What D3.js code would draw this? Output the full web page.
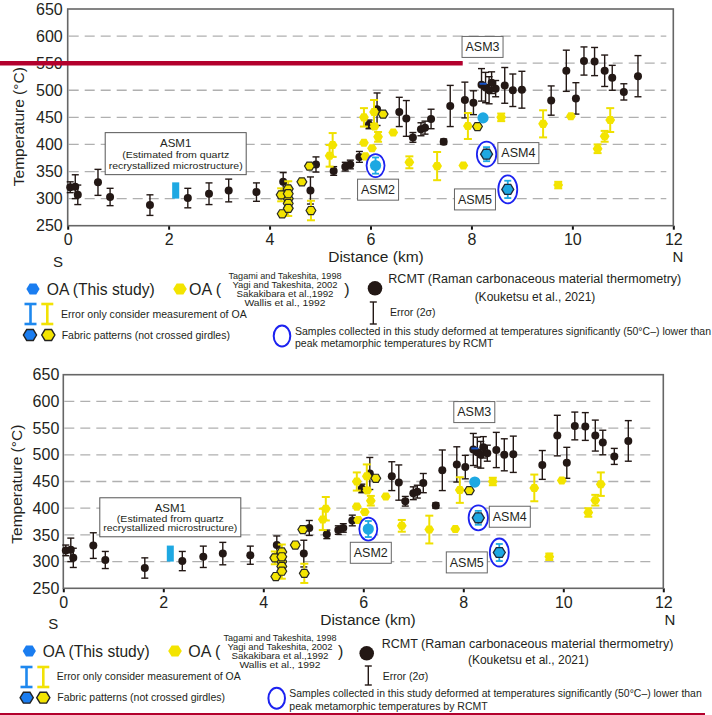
<!DOCTYPE html>
<html><head><meta charset="utf-8">
<script src="https://cdn.jsdelivr.net/npm/d3@7"></script>
<style>html,body{margin:0;padding:0;background:#fff;} svg{display:block;font-family:"Liberation Sans",Arial,sans-serif;}</style>
</head><body>
<svg id="c" width="712" height="715"></svg>
<script>
// ---------------- DATA ----------------
const xTicks = [0, 2, 4, 6, 8, 10, 12];
const yTicks = [250, 300, 350, 400, 450, 500, 550, 600, 650];
const gridTemps = [300, 350, 400, 450, 500, 550, 600];

// RCMT (Kouketsu et al., 2021): [distance km, temperature °C, error 2σ]
const rcmt = [
  [0.05,321,10],[0.15,322,22],[0.2,307,18],[0.6,330,24],[0.84,303,16],[1.63,288,19],
  [2.38,301,18],[2.8,309,20],[3.19,315,21],[3.74,312,17],[4.27,331,17],[4.81,315,25],
  [4.92,363,14],[5.27,351,8],[5.5,359,8],[5.6,363,8],[5.78,377,10],[5.97,437,8],[6.13,465,30],
  [6.57,460,27],[6.71,448,33],[6.84,413,9],[7.0,428,12],[7.08,431,12],[7.2,447,18],
  [7.45,405,5],[7.58,471,38],[7.87,482,33],[8.04,477,22],
  [8.2,510,30],[8.28,505,28],[8.35,500,25],[8.4,514,20],[8.48,503,15],[8.66,509,33],[8.82,500,30],[9.0,501,34],
  [9.58,481,27],[9.88,536,38],[10.07,485,29],[10.23,554,26],[10.44,553,26],[10.64,536,29],
  [10.79,523,23],[11.02,497,15],[11.3,526,38]
];

// OA of previous studies: [km, °C, error, fabric pattern (not crossed girdles) 1/0]
const oaPrevious = [
  [4.37,300,32,1],[4.23,307,12,1],[4.25,272,0,1],[4.37,318,0,1],[4.37,309,0,1],[4.37,291,0,1],[4.37,282,0,1],
  [4.64,331,0,1],[4.79,360,0,1],[4.82,278,18,1],[5.19,379,20,0],[5.25,399,22,0],
  [5.87,450,17,0],[6.07,460,22,0],[6.25,456,0,1],[5.87,403,0,0],[6.15,414,9,0],[6.08,433,0,0],
  [6.03,393,0,0],[5.9,378,0,0],[6.45,422,0,0],[6.77,367,11,0],[7.32,360,26,0],[7.84,361,0,0],
  [7.93,434,24,0],[8.12,433,0,1],[8.59,450,7,0],[9.42,438,25,0],[9.97,452,0,0],
  [10.5,392,8,0],[10.64,415,10,0],[10.75,445,22,0]
];
const oaPreviousOnlyTop = [[9.72,325,6,0]];
const oaPreviousOnlyBottom = [[9.72,309,6,0]];

// OA (this study): name, km, °C, low, high, fabric, deformed well below RCMT peak
const oaStudy = [
  {name:"ASM2", km:6.1,  t:361, lo:346, hi:376, fabric:0, low:1},
  {name:"ASM3", km:8.23, t:449, lo:386, hi:512, fabric:0, low:0},
  {name:"ASM4", km:8.3,  t:382, lo:369, hi:395, fabric:1, low:1},
  {name:"ASM5", km:8.72, t:317, lo:301, hi:333, fabric:1, low:1}
];
// ASM1 estimated from quartz recrystallized microstructure: km range, °C range
const asm1 = {km0:2.07, km1:2.21, t0:300, t1:330};

const refsLines = ["Tagami and Takeshita, 1998","Yagi and Takeshita, 2002","Sakakibara et al.,1992","Wallis et al., 1992"];

// ---------------- LAYOUT ----------------
const labelPos = { // annotation box centres in data coords
  ASM1:[2.14,383], ASM2:[6.15,316.5], ASM3:[8.22,580], ASM4:[8.93,384], ASM5:[8.07,298.5]
};
const ellipseSize = {ASM2:[9,11.5], ASM4:[9.7,12.5], ASM5:[9.5,14]};
const refsW = [113, 105, 97, 81];

const panels = [
  {left:67.7, right:673.3, top:9, bottom:225.7, yPad:5, xPad:4, ytx:19, yty:126.7,
   extra: oaPreviousOnlyTop, asm1H:42,
   L:{sX:58,sY:262,nX:678,nY:257,distX:376,distY:257,row1Y:289,blueHexX:33,oaThisX:46.7,oaThisW:108,
      yelHexX:180,oaOpenX:189,refsX:285,refsY:[275.7,285,294.5,303.5],closeX:347,blackX:375,blackY:288.3,
      rcmtX:388.3,rcmtY:278.3,rcmtW:293,koukX:535,koukY:296.7,errIx:373.3,errIy1:302,errIy2:324,
      err2X:390,err2Y:312.3,barBlueX:30.5,barYelX:47.3,barY1:304,barY2:324,errOnlyX:61,errOnlyY:314.3,
      errOnlyW:185.7,fabY:335,fabBX:30,fabYX:48.3,fabTX:61.7,fabW:168.3,ellX:282,ellY:336,
      sampX:295,sampY1:331,sampY2:343.5,sampW:416}},
  {left:63.3, right:663.3, top:374.7, bottom:588.3, yPad:4, xPad:4, ytx:17, yty:484.2,
   extra: oaPreviousOnlyBottom, asm1H:39,
   L:{sX:53.3,sY:623.3,nX:670,nY:620,distX:368,distY:620,row1Y:651,blueHexX:29.3,oaThisX:42.7,oaThisW:107,
      yelHexX:175,oaOpenX:188.3,refsX:280,refsY:[637.7,647,656.3,665.3],closeX:340.7,blackX:366.7,blackY:653.3,
      rcmtX:381.7,rcmtY:643.3,rcmtW:291.7,koukX:528.3,koukY:660,errIx:368.3,errIy1:666,errIy2:685,
      err2X:382.7,err2Y:676,barBlueX:26.5,barYelX:43.3,barY1:667,barY2:687,errOnlyX:56.7,errOnlyY:676,
      errOnlyW:184,fabY:697.7,fabBX:26.7,fabYX:43.3,fabTX:57.3,fabW:167.7,ellX:276.7,ellY:698.3,
      sampX:289.3,sampY1:693.3,sampY2:706,sampW:412.4}}
];

const C = {black:"#231815", yellow:"#f3e400", yellowBar:"#efe000", cyan:"#1ea8e2",
  legBlue:"#1a7df0", ellipse:"#1c22f0", text:"#231f20", grid:"#b0b0b0", frame:"#666", red:"#b3002d"};

// ---------------- DRAW ----------------
const svg = d3.select("#c");

svg.append("defs").append("linearGradient").attr("id","asm3grad")
  .attr("x1",0).attr("y1",0).attr("x2",0).attr("y2",1)
  .selectAll("stop").data([["0%","#1552c8"],["100%","#3aa6f2"]]).join("stop")
  .attr("offset",d=>d[0]).attr("stop-color",d=>d[1]);

function hexPath(cx, cy, r) {
  const p = d3.path();
  for (let k = 0; k < 6; k++) {
    const a = k * Math.PI / 3;
    const px = cx + r * Math.cos(a), py = cy + r * Math.sin(a) * 0.95;
    if (k === 0) p.moveTo(px, py); else p.lineTo(px, py);
  }
  p.closePath();
  return p.toString();
}
function errBar(g, x0, y1, y2, capHalf, color, sw) {
  g.append("line").attr("x1",x0).attr("x2",x0).attr("y1",y1).attr("y2",y2).attr("stroke",color).attr("stroke-width",sw);
  [y1,y2].forEach(yy => g.append("line").attr("x1",x0-capHalf).attr("x2",x0+capHalf).attr("y1",yy).attr("y2",yy)
    .attr("stroke",color).attr("stroke-width",sw));
}
function txt(g, x0, yc, s, size, opts={}) {
  const t = g.append("text").attr("x",x0).attr("y",yc).attr("dy","0.35em").attr("font-size",size)
    .attr("fill",C.text).attr("text-anchor",opts.anchor||"start").text(s);
  if (opts.w) t.attr("textLength",opts.w).attr("lengthAdjust","spacingAndGlyphs");
  return t;
}

function drawPanel(P) {
  const x = d3.scaleLinear().domain([0,12]).range([P.left,P.right]);
  const y = d3.scaleLinear().domain([250,650]).range([P.bottom,P.top]);
  const g = svg.append("g");

  // grid
  g.selectAll("line.grid").data(gridTemps).join("line").attr("class","grid")
    .attr("x1",P.left+1).attr("x2",P.right-7).attr("y1",d=>y(d)).attr("y2",d=>y(d))
    .attr("stroke",C.grid).attr("stroke-width",1.3).attr("stroke-dasharray","10,6");

  // axes
  const ax = g.append("g").attr("transform",`translate(0,${P.bottom})`)
    .call(d3.axisBottom(x).tickValues(xTicks).tickSize(4).tickPadding(P.xPad).tickFormat(d3.format("d")));
  ax.select(".domain").remove();
  ax.selectAll(".tick line").attr("stroke","#111").attr("stroke-width",2);
  ax.selectAll("text").attr("font-size",16).attr("fill",C.text).attr("font-family","Liberation Sans, Arial");
  const ay = g.append("g").attr("transform",`translate(${P.left},0)`)
    .call(d3.axisLeft(y).tickValues(yTicks).tickSize(0).tickPadding(P.yPad).tickFormat(d3.format("d")));
  ay.select(".domain").remove();
  ay.selectAll("text").attr("font-size",16).attr("fill",C.text).attr("font-family","Liberation Sans, Arial");

  // frame
  g.append("rect").attr("x",P.left).attr("y",P.top).attr("width",P.right-P.left).attr("height",P.bottom-P.top)
    .attr("fill","none").attr("stroke",C.frame).attr("stroke-width",1.6);

  // axis titles
  g.append("text").attr("transform",`translate(${P.ytx},${P.yty}) rotate(-90)`).attr("text-anchor","middle")
    .attr("dy","0.35em").attr("font-size",15.5).attr("fill",C.text).text("Temperature (°C)");
  const L = P.L;
  txt(g, L.distX, L.distY, "Distance (km)", 15.5, {anchor:"middle"});
  txt(g, L.sX, L.sY, "S", 15, {anchor:"middle"});
  txt(g, L.nX, L.nY, "N", 15, {anchor:"middle"});

  // ASM1 annotation box and rect
  const [a1x, a1y] = labelPos.ASM1;
  const bx = x(a1x), by = y(a1y);
  g.append("rect").attr("x",bx-70.5).attr("y",by-P.asm1H/2).attr("width",141).attr("height",P.asm1H)
    .attr("fill","#fff").attr("stroke","#555").attr("stroke-width",1);
  txt(g, bx, by-P.asm1H/2+10, "ASM1", 11.5, {anchor:"middle"});
  txt(g, bx, by+1, "(Estimated from quartz", 9.8, {anchor:"middle", w:107});
  txt(g, bx, by+P.asm1H/2-9, "recrystallized microstructure)", 9.8, {anchor:"middle", w:134});
  g.append("rect").attr("x",x(asm1.km0)).attr("y",y(asm1.t1)).attr("width",x(asm1.km1)-x(asm1.km0))
    .attr("height",y(asm1.t0)-y(asm1.t1)).attr("fill",C.cyan);

  // RCMT error bars + dots
  rcmt.forEach(d => errBar(g, x(d[0]), y(d[1]+d[2]), y(d[1]-d[2]), 3.5, C.black, 1.4));
  g.selectAll("circle.rcmt").data(rcmt).join("circle").attr("class","rcmt")
    .attr("cx",d=>x(d[0])).attr("cy",d=>y(d[1])).attr("r",4).attr("fill",C.black);

  // previous OA
  const prev = oaPrevious.concat(P.extra);
  prev.filter(d=>d[2]>0).forEach(d => errBar(g, x(d[0]), y(d[1]+d[2]), y(d[1]-d[2]), 4, C.yellowBar, 2));
  g.selectAll("path.oa").data(prev).join("path").attr("class","oa")
    .attr("d",d=>hexPath(x(d[0]), y(d[1]), 4.9)).attr("fill",C.yellow)
    .attr("stroke",d=>d[3]?"#2a2a20":"none").attr("stroke-width",1.2);

  // this study
  const asm3 = oaStudy.find(d=>d.name==="ASM3");
  errBar(g, x(asm3.km), y(asm3.hi), y(asm3.lo), 3.5, "url(#asm3grad)", 2);
  g.append("line").attr("x1",x(asm3.km)-3.5).attr("x2",x(asm3.km)+3.5).attr("y1",y(asm3.hi)).attr("y2",y(asm3.hi))
    .attr("stroke","#1552c8").attr("stroke-width",2);
  oaStudy.filter(d=>d.low).forEach(d => {
    const [rx, ry] = ellipseSize[d.name];
    g.append("ellipse").attr("cx",x(d.km)).attr("cy",y(d.t)).attr("rx",rx).attr("ry",ry)
      .attr("fill","#fff").attr("stroke",C.ellipse).attr("stroke-width",1.8);
  });
  oaStudy.forEach(d => {
    if (d.name !== "ASM3") errBar(g, x(d.km), y(d.hi), y(d.lo), 3.5, C.cyan, 1.8);
    if (d.fabric) g.append("path").attr("d",hexPath(x(d.km), y(d.t), 6)).attr("fill",C.cyan)
      .attr("stroke","#1b2a3a").attr("stroke-width",1.3);
    else g.append("circle").attr("cx",x(d.km)).attr("cy",y(d.t)).attr("r",5.6).attr("fill",C.cyan);
  });

  // labels
  ["ASM2","ASM3","ASM4","ASM5"].forEach(n => {
    const [lx, ly] = labelPos[n];
    const cx = x(lx), cy = y(ly);
    g.append("rect").attr("x",cx-20.5).attr("y",cy-10.5).attr("width",41).attr("height",21)
      .attr("fill","#fff").attr("stroke","#666").attr("stroke-width",1);
    txt(g, cx, cy, n, 12.5, {anchor:"middle"});
  });

  // ---------- legend ----------
  g.append("path").attr("d",hexPath(L.blueHexX, L.row1Y, 6.6)).attr("fill",C.legBlue);
  txt(g, L.oaThisX, L.row1Y, "OA (This study)", 16, {w:L.oaThisW});
  g.append("path").attr("d",hexPath(L.yelHexX, L.row1Y, 6.8)).attr("fill",C.yellow);
  txt(g, L.oaOpenX, L.row1Y, "OA (", 16);
  refsLines.forEach((s,i) => txt(g, L.refsX, L.refsY[i], s, 8.4, {anchor:"middle", w:refsW[i]}));
  txt(g, L.closeX, L.row1Y, ")", 16, {anchor:"middle"});
  g.append("circle").attr("cx",L.blackX).attr("cy",L.blackY).attr("r",7.3).attr("fill",C.black);
  txt(g, L.rcmtX, L.rcmtY, "RCMT (Raman carbonaceous material thermometry)", 12.5, {w:L.rcmtW});
  txt(g, L.koukX, L.koukY, "(Kouketsu et al., 2021)", 12, {anchor:"middle"});
  errBar(g, L.errIx, L.errIy1, L.errIy2, 3.5, C.black, 1.4);
  txt(g, L.err2X, L.err2Y, "Error (2σ)", 10.5);
  errBar(g, L.barBlueX, L.barY1, L.barY2, 6, "#1e88ee", 2.6);
  errBar(g, L.barYelX, L.barY1, L.barY2, 6, "#f2e205", 2.6);
  txt(g, L.errOnlyX, L.errOnlyY, "Error only consider measurement of OA", 10.5, {w:L.errOnlyW});
  g.append("path").attr("d",hexPath(L.fabBX, L.fabY, 6.6)).attr("fill",C.legBlue).attr("stroke","#222").attr("stroke-width",1.4);
  g.append("path").attr("d",hexPath(L.fabYX, L.fabY, 6.6)).attr("fill",C.yellow).attr("stroke","#222").attr("stroke-width",1.4);
  txt(g, L.fabTX, L.fabY, "Fabric patterns (not crossed girdles)", 10.5, {w:L.fabW});
  g.append("ellipse").attr("cx",L.ellX).attr("cy",L.ellY).attr("rx",8.3).attr("ry",10.5)
    .attr("fill","none").attr("stroke",C.ellipse).attr("stroke-width",2);
  txt(g, L.sampX, L.sampY1, "Samples collected in this study deformed at temperatures significantly (50°C\u2013) lower than", 10.5, {w:L.sampW});
  txt(g, L.sampX, L.sampY2, "peak metamorphic temperatures by RCMT", 10.5);
}

panels.forEach(drawPanel);

// decorative red rules
svg.append("line").attr("x1",0).attr("x2",462.7).attr("y1",63.3).attr("y2",63.3).attr("stroke",C.red).attr("stroke-width",4.6);
svg.append("line").attr("x1",0).attr("x2",705).attr("y1",714).attr("y2",714).attr("stroke",C.red).attr("stroke-width",2);
</script>
</body></html>
